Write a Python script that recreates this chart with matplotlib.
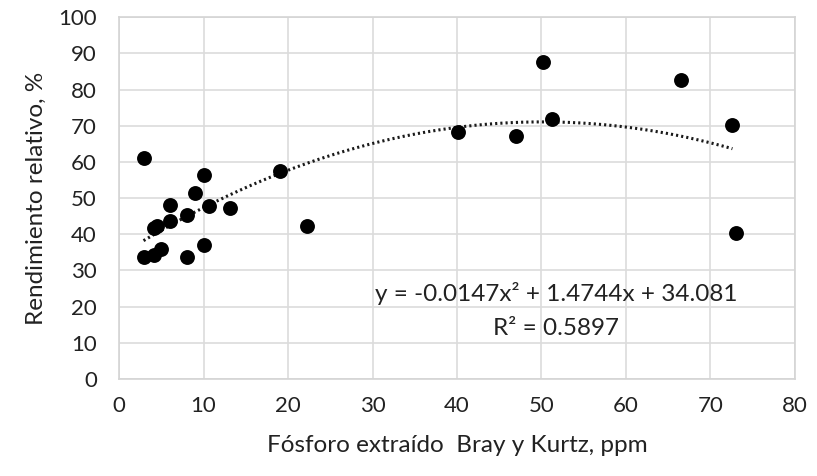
import numpy as np
import matplotlib

matplotlib.use("Agg")
import matplotlib.pyplot as plt

# data
phosphorus_ppm = [3.0, 10.1, 9.0, 6.0, 19.0, 10.6, 13.1, 8.0, 6.0, 4.5, 4.1, 22.2,
                  10.1, 5.0, 4.1, 2.9, 8.0, 50.2, 66.5, 51.3, 40.1, 47.0, 72.5, 73.0]
relative_yield = [61.0, 56.5, 51.5, 48.2, 57.5, 47.8, 47.3, 45.4, 43.6, 42.4, 41.7, 42.3,
                  36.9, 35.9, 34.4, 33.7, 33.7, 87.5, 82.5, 71.9, 68.2, 67.2, 70.3, 40.4]
fit_coefs = [-0.0147, 1.4744, 34.081]
equation_text = "y = -0.0147x² + 1.4744x + 34.081"
r2_text = "R² = 0.5897"
x_ticks = list(range(0, 81, 10))
y_ticks = list(range(0, 101, 10))

plt.rcParams["font.family"] = ["Lato", "DejaVu Sans"]

fig = plt.figure(figsize=(8.17, 4.76), dpi=100)
ax = fig.add_axes([0.1457, 0.2038, 0.8273, 0.7602])

ax.scatter(phosphorus_ppm, relative_yield, s=115, color="black", zorder=3, linewidths=0)

xs = np.linspace(min(phosphorus_ppm), 72.6, 200)
ax.plot(xs, np.polyval(fit_coefs, xs), color="#1a1a1a", lw=2.2,
        linestyle=(0, (0.7, 1.0)), zorder=2)

ax.set_xlim(0, 80)
ax.set_ylim(0, 100)
ax.set_xticks(x_ticks)
ax.set_yticks(y_ticks)
ax.grid(True, color="#dcdcdc", lw=1.2)
ax.set_axisbelow(True)
for side in ax.spines.values():
    side.set_color("#d4d4d4")
    side.set_linewidth(1.2)
ax.tick_params(length=0, labelsize=16, colors="#222222")
ax.tick_params(axis="y", pad=16)
ax.tick_params(axis="x", pad=12)

ax.set_xlabel("Fósforo extraído  Bray y Kurtz, ppm", fontsize=17.5, color="#222222", labelpad=14)
ax.set_ylabel("Rendimiento relativo, %", fontsize=17.5, color="#222222", labelpad=8)

ax.text(51.7, 23.6, equation_text, fontsize=17.5, ha="center", va="center", color="#222222")
ax.text(51.7, 14.0, r2_text, fontsize=17.5, ha="center", va="center", color="#222222")

fig.savefig("out.png", dpi=100)
